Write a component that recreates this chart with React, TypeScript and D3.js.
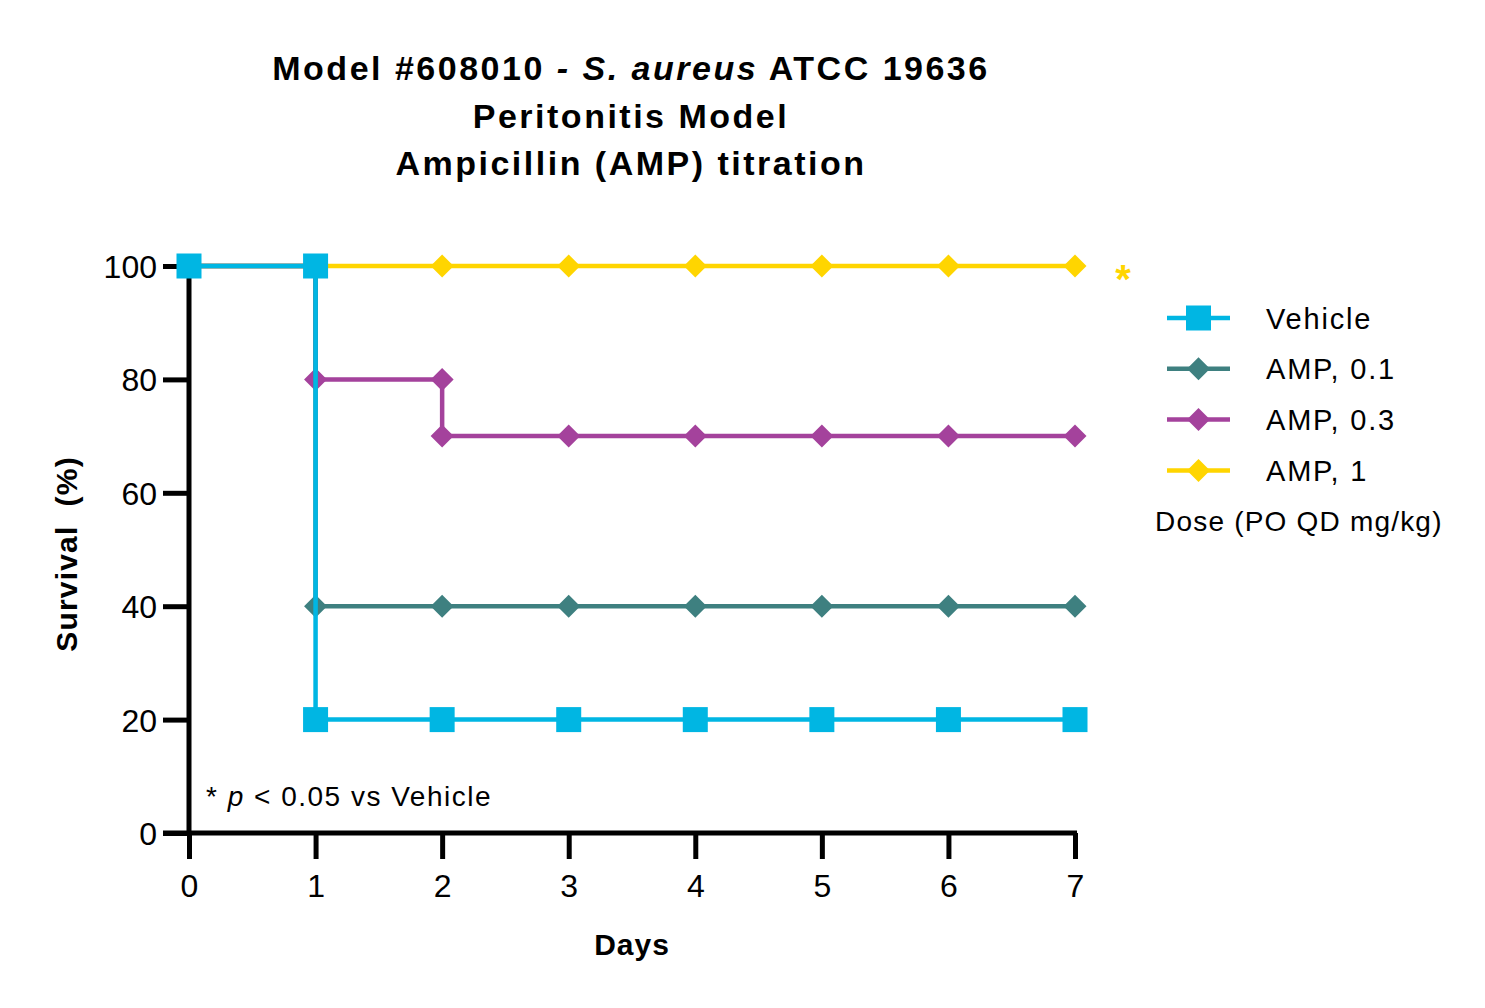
import React, { useEffect, useRef } from 'react';
import * as d3 from 'd3';

const dayTicks = [0, 1, 2, 3, 4, 5, 6, 7];
const survivalTicks = [0, 20, 40, 60, 80, 100];

const seriesNames = ['Vehicle', 'AMP, 0.1', 'AMP, 0.3', 'AMP, 1'];
const seriesColors = ['#00B6E3', '#3E8080', '#A4429C', '#FFD500'];
const seriesShapes = ['square', 'diamond', 'diamond', 'diamond'];

// Kaplan-Meier steps: duplicated days mark a drop
const vehicleDays = [0, 1, 1, 2, 3, 4, 5, 6, 7];
const vehicleSurv = [100, 100, 20, 20, 20, 20, 20, 20, 20];
const amp01Days = [0, 1, 1, 2, 3, 4, 5, 6, 7];
const amp01Surv = [100, 100, 40, 40, 40, 40, 40, 40, 40];
const amp03Days = [0, 1, 1, 2, 2, 3, 4, 5, 6, 7];
const amp03Surv = [100, 100, 80, 80, 70, 70, 70, 70, 70, 70];
const amp1Days = [0, 1, 2, 3, 4, 5, 6, 7];
const amp1Surv = [100, 100, 100, 100, 100, 100, 100, 100];

const seriesDays = [vehicleDays, amp01Days, amp03Days, amp1Days];
const seriesSurv = [vehicleSurv, amp01Surv, amp03Surv, amp1Surv];

const FONT = "'Liberation Sans', Arial, sans-serif";

const App: React.FC = () => {
  const svgRef = useRef<SVGSVGElement>(null);

  useEffect(() => {
    if (!svgRef.current) return;
    const width = 1485;
    const height = 1008;
    const svg = d3.select(svgRef.current);
    svg.selectAll('*').remove();
    svg.attr('width', width).attr('height', height).style('font-family', FONT);

    const x = d3.scaleLinear().domain([0, 7]).range([189, 1075]);
    const y = d3.scaleLinear().domain([0, 100]).range([833, 266]);

    // title
    const title = svg.append('text')
      .attr('text-anchor', 'middle')
      .attr('font-weight', 'bold')
      .attr('font-size', 34)
      .attr('letter-spacing', 2.5);
    const l1 = title.append('tspan').attr('x', 631).attr('y', 80);
    l1.append('tspan').text('Model #608010 ');
    l1.append('tspan').attr('font-style', 'italic').text('- S. aureus');
    l1.append('tspan').text(' ATCC 19636');
    title.append('tspan').attr('x', 631).attr('y', 128).text('Peritonitis Model');
    title.append('tspan').attr('x', 631).attr('y', 175).text('Ampicillin (AMP) titration');

    // axes
    const axisG = svg.append('g');
    const yAxis = axisG.append('g')
      .attr('transform', `translate(${x(0)},0)`)
      .call(d3.axisLeft(y).tickValues(survivalTicks).tickSize(26).tickPadding(6).tickSizeOuter(0));
    const xAxis = axisG.append('g')
      .attr('transform', `translate(0,${y(0)})`)
      .call(d3.axisBottom(x).tickValues(dayTicks).tickFormat(d3.format('d')).tickSize(26).tickPadding(14).tickSizeOuter(0));
    [yAxis, xAxis].forEach(a => {
      a.select('.domain').attr('stroke', '#000').attr('stroke-width', 5);
      a.selectAll('.tick line').attr('stroke', '#000').attr('stroke-width', 5);
      a.selectAll('.tick text')
        .attr('fill', '#000')
        .attr('font-size', 32)
        .attr('font-family', FONT);
    });
    yAxis.selectAll('.tick text').attr('dy', '0.36em');
    xAxis.selectAll('.tick text').attr('dy', '0.75em');
    // extend x-axis line to meet the 0 tick on the left
    xAxis.select('.domain').attr('d', `M${x(0) - 26},0H${x(7) + 2}`);
    yAxis.select('.domain').attr('d', `M0,${y(100) - 2}V${y(0)}`);

    // axis titles
    svg.append('text')
      .attr('x', 632).attr('y', 955)
      .attr('text-anchor', 'middle')
      .attr('font-weight', 'bold').attr('font-size', 30)
      .attr('letter-spacing', 1)
      .text('Days');
    svg.append('text')
      .attr('transform', `translate(77,554) rotate(-90)`)
      .attr('text-anchor', 'middle')
      .attr('font-weight', 'bold').attr('font-size', 30)
      .attr('letter-spacing', 1.2)
      .style('white-space', 'pre')
      .text('Survival  (%)');

    const marker = (g: d3.Selection<SVGGElement, unknown, null, undefined>, shape: string, color: string, cx: number, cy: number) => {
      if (shape === 'square') {
        g.append('rect')
          .attr('x', cx - 12.5).attr('y', cy - 12.5)
          .attr('width', 25).attr('height', 25)
          .attr('fill', color);
      } else {
        const r = 11.5;
        g.append('path')
          .attr('d', `M${cx},${cy - r}L${cx + r},${cy}L${cx},${cy + r}L${cx - r},${cy}Z`)
          .attr('fill', color);
      }
    };

    const line = d3.line<[number, number]>()
      .x(d => x(d[0]))
      .y(d => y(d[1]));

    // draw back-to-front: AMP 1, AMP 0.3, AMP 0.1, Vehicle
    const plot = svg.append('g');
    [3, 2, 1, 0].forEach(i => {
      const pts: [number, number][] = seriesDays[i].map((d, j) => [d, seriesSurv[i][j]]);
      const g = plot.append('g');
      g.append('path')
        .attr('d', line(pts) || '')
        .attr('fill', 'none')
        .attr('stroke', seriesColors[i])
        .attr('stroke-width', 4.5);
      pts.forEach(p => marker(g, seriesShapes[i], seriesColors[i], x(p[0]), y(p[1])));
    });

    // significance star
    svg.append('text')
      .attr('x', 1123).attr('y', 293)
      .attr('text-anchor', 'middle')
      .attr('font-weight', 'bold').attr('font-size', 40)
      .attr('fill', seriesColors[3])
      .text('*');

    // legend
    const legend = svg.append('g');
    seriesNames.forEach((name, i) => {
      const ly = 318 + i * 50.8;
      const g = legend.append('g');
      g.append('line')
        .attr('x1', 1167).attr('x2', 1230)
        .attr('y1', ly).attr('y2', ly)
        .attr('stroke', seriesColors[i]).attr('stroke-width', 4.5);
      marker(g, seriesShapes[i], seriesColors[i], 1198.5, ly);
      g.append('text')
        .attr('x', 1266).attr('y', ly + 10.5)
        .attr('font-size', 29)
        .attr('letter-spacing', 1.8)
        .text(name);
    });
    legend.append('text')
      .attr('x', 1155).attr('y', 531)
      .attr('font-size', 28)
      .attr('letter-spacing', 1.2)
      .text('Dose (PO QD mg/kg)');

    // footnote
    const foot = svg.append('text')
      .attr('x', 206).attr('y', 806)
      .attr('font-size', 28)
      .attr('letter-spacing', 1.5);
    foot.append('tspan').text('* ');
    foot.append('tspan').attr('font-style', 'italic').text('p');
    foot.append('tspan').text(' < 0.05 vs Vehicle');
  }, []);

  return (
    <div style={{ position: 'absolute', left: 0, top: 0, background: '#fff' }}>
      <svg ref={svgRef}></svg>
    </div>
  );
};

export default App;
